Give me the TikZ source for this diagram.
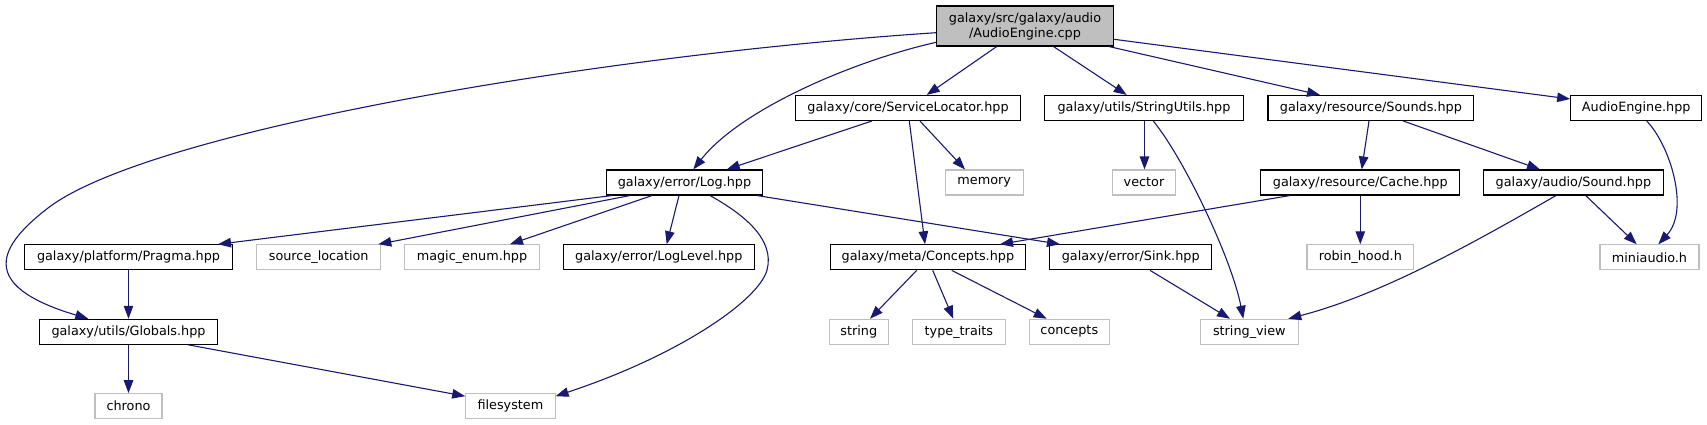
\documentclass[tikz,border=0pt]{standalone}
\usepackage{fontspec}
\setmainfont{DejaVu Sans}
\usetikzlibrary{arrows.meta}
\definecolor{edgec}{HTML}{191970}
\definecolor{grayb}{HTML}{BFBFBF}
\begin{document}
\begin{tikzpicture}[x=1pt,y=-1pt,
  base/.style={draw, line width=1.1pt, inner sep=0pt, minimum height=25pt, font=\fontsize{12.8}{15}\selectfont, anchor=center},
  filebox/.style={base, draw=black},
  sysbox/.style={base, draw=grayb},
  rootbox/.style={base, draw=black, fill=grayb, minimum height=40pt, align=center},
  dep/.style={draw=edgec, line width=1.1pt, -{Triangle[length=13pt,width=9.5pt]}},
]
\useasboundingbox (0,0) rectangle (1707,425);
% row 1
\node[rootbox, minimum width=177pt] (root) at (1025,26) {galaxy/src/galaxy/audio\\/AudioEngine.cpp};
% row 2
\node[filebox, minimum width=225.4pt] (SL) at (908,108) {galaxy/core/ServiceLocator.hpp};
\node[filebox, minimum width=198.6pt] (SU) at (1144,108) {galaxy/utils/StringUtils.hpp};
\node[filebox, minimum width=205.7pt] (SO) at (1370.85,108) {galaxy/resource/Sounds.hpp};
\node[filebox, minimum width=131pt] (AE) at (1636.2,108) {AudioEngine.hpp};
% row 3
\node[filebox, minimum width=156pt] (LOG) at (684.5,182.5) {galaxy/error/Log.hpp};
\node[sysbox, minimum width=77.7pt] (MEM) at (984.2,182.5) {memory};
\node[sysbox, minimum width=62.6pt] (VEC) at (1144,182.5) {vector};
\node[filebox, minimum width=199pt] (CA) at (1360.3,182.5) {galaxy/resource/Cache.hpp};
\node[filebox, minimum width=179.3pt] (SD) at (1573.4,182.5) {galaxy/audio/Sound.hpp};
% row 4
\node[filebox, minimum width=208pt] (PR) at (128.5,257.3) {galaxy/platform/Pragma.hpp};
\node[sysbox, minimum width=124pt] (SLOC) at (318.7,257.3) {source\_location};
\node[sysbox, minimum width=135.4pt] (ME) at (472,257.3) {magic\_enum.hpp};
\node[filebox, minimum width=191pt] (LL) at (658.8,257.3) {galaxy/error/LogLevel.hpp};
\node[filebox, minimum width=195.7pt] (CO) at (927.9,257.3) {galaxy/meta/Concepts.hpp};
\node[filebox, minimum width=162pt] (SK) at (1130.7,257.3) {galaxy/error/Sink.hpp};
\node[sysbox, minimum width=106.6pt] (RH) at (1360.3,257.3) {robin\_hood.h};
\node[sysbox, minimum width=99pt] (MA) at (1649.5,257.3) {miniaudio.h};
% row 5
\node[filebox, minimum width=178.6pt] (GL) at (128.5,331.8) {galaxy/utils/Globals.hpp};
\node[sysbox, minimum width=59pt] (STR) at (858.8,331.8) {string};
\node[sysbox, minimum width=92.3pt] (TT) at (958.9,331.8) {type\_traits};
\node[sysbox, minimum width=80pt] (CC) at (1069.3,331.8) {concepts};
\node[sysbox, minimum width=98pt] (SV) at (1249.3,331.8) {string\_view};
% row 6
\node[sysbox, minimum width=67pt] (CH) at (128.5,406.2) {chrono};
\node[sysbox, minimum width=89.3pt] (FS) at (510.4,406.2) {filesystem};

% edges from root
\draw[dep] ([xshift=-28.3pt]root.south) -- ([xshift=18.7pt]SL.north);
\draw[dep] ([xshift=28.5pt]root.south) -- ([xshift=-17.3pt]SU.north);
\draw[dep] ([xshift=84pt]root.south) -- ([xshift=-50.85pt]SO.north);
\draw[dep] ([yshift=-13.3pt]root.east) -- ([yshift=9pt]AE.west);
\draw[dep] ([yshift=-16.3pt]root.west) .. controls (850,62) and (740,110) .. ([xshift=8.8pt]LOG.north);
\draw[dep] ([yshift=-6.7pt]root.west) .. controls (600,55) and (150,130) .. (48,208)
  .. controls (0,245) and (-25,285) .. ([xshift=-40.2pt]GL.north);
% ServiceLocator
\draw[dep] ([xshift=-36.3pt]SL.south) -- ([xshift=42.2pt]LOG.north);
\draw[dep] ([xshift=12pt]SL.south) -- ([xshift=-19.2pt]MEM.north);
\draw[dep] ([xshift=1.3pt]SL.south) -- ([xshift=-2.9pt]CO.north);
% StringUtils
\draw[dep] ([xshift=0.5pt]SU.south) -- ([xshift=0.5pt]VEC.north);
\draw[dep] ([xshift=9.3pt]SU.south) .. controls (1185,160) and (1232,260) .. ([xshift=-6pt]SV.north);
% Sounds
\draw[dep] ([xshift=-1.85pt]SO.south) -- ([xshift=1.4pt]CA.north);
\draw[dep] ([xshift=32.5pt]SO.south) -- ([xshift=-33.4pt]SD.north);
% AudioEngine.hpp
\draw[dep] ([xshift=10.5pt]AE.south) .. controls (1670,145) and (1690,210) .. ([xshift=8.8pt]MA.north);
% Log
\draw[dep] ([xshift=-72.5pt]LOG.south) -- ([xshift=89.5pt]PR.north);
\draw[dep] ([xshift=-54.5pt]LOG.south) -- ([xshift=59.6pt]SLOC.north);
\draw[dep] ([xshift=-32.5pt]LOG.south) -- ([xshift=38pt]ME.north);
\draw[dep] ([xshift=-5.5pt]LOG.south) -- ([xshift=7.9pt]LL.north);
\draw[dep] ([xshift=25.5pt]LOG.south) .. controls (745,215) and (775,240) .. (767,270)
  .. controls (759,300) and (680,355) .. ([yshift=10pt]FS.east);
\draw[dep] ([xshift=72.5pt]LOG.south) -- ([xshift=-70.7pt]SK.north);
% Cache
\draw[dep] ([xshift=-70.3pt]CA.south) -- ([xshift=72.1pt]CO.north);
\draw[dep] (CA.south) -- (RH.north);
% Sound
\draw[dep] ([xshift=-17.4pt]SD.south) .. controls (1470,245) and (1380,295) .. ([xshift=39pt]SV.north);
\draw[dep] ([xshift=12.3pt]SD.south) -- ([xshift=-12.8pt]MA.north);
% Pragma, Globals
\draw[dep] (PR.south) -- (GL.north);
\draw[dep] (GL.south) -- (CH.north);
\draw[dep] ([xshift=59.8pt]GL.south) -- ([yshift=10pt]FS.west);
% Concepts
\draw[dep] ([xshift=-11.2pt]CO.south) -- ([xshift=11.2pt]STR.north);
\draw[dep] ([xshift=4.8pt]CO.south) -- ([xshift=-5.6pt]TT.north);
\draw[dep] ([xshift=23.8pt]CO.south) -- ([xshift=-22.6pt]CC.north);
% Sink
\draw[dep] ([xshift=19.3pt]SK.south) -- ([xshift=-19.3pt]SV.north);
\end{tikzpicture}
\end{document}
